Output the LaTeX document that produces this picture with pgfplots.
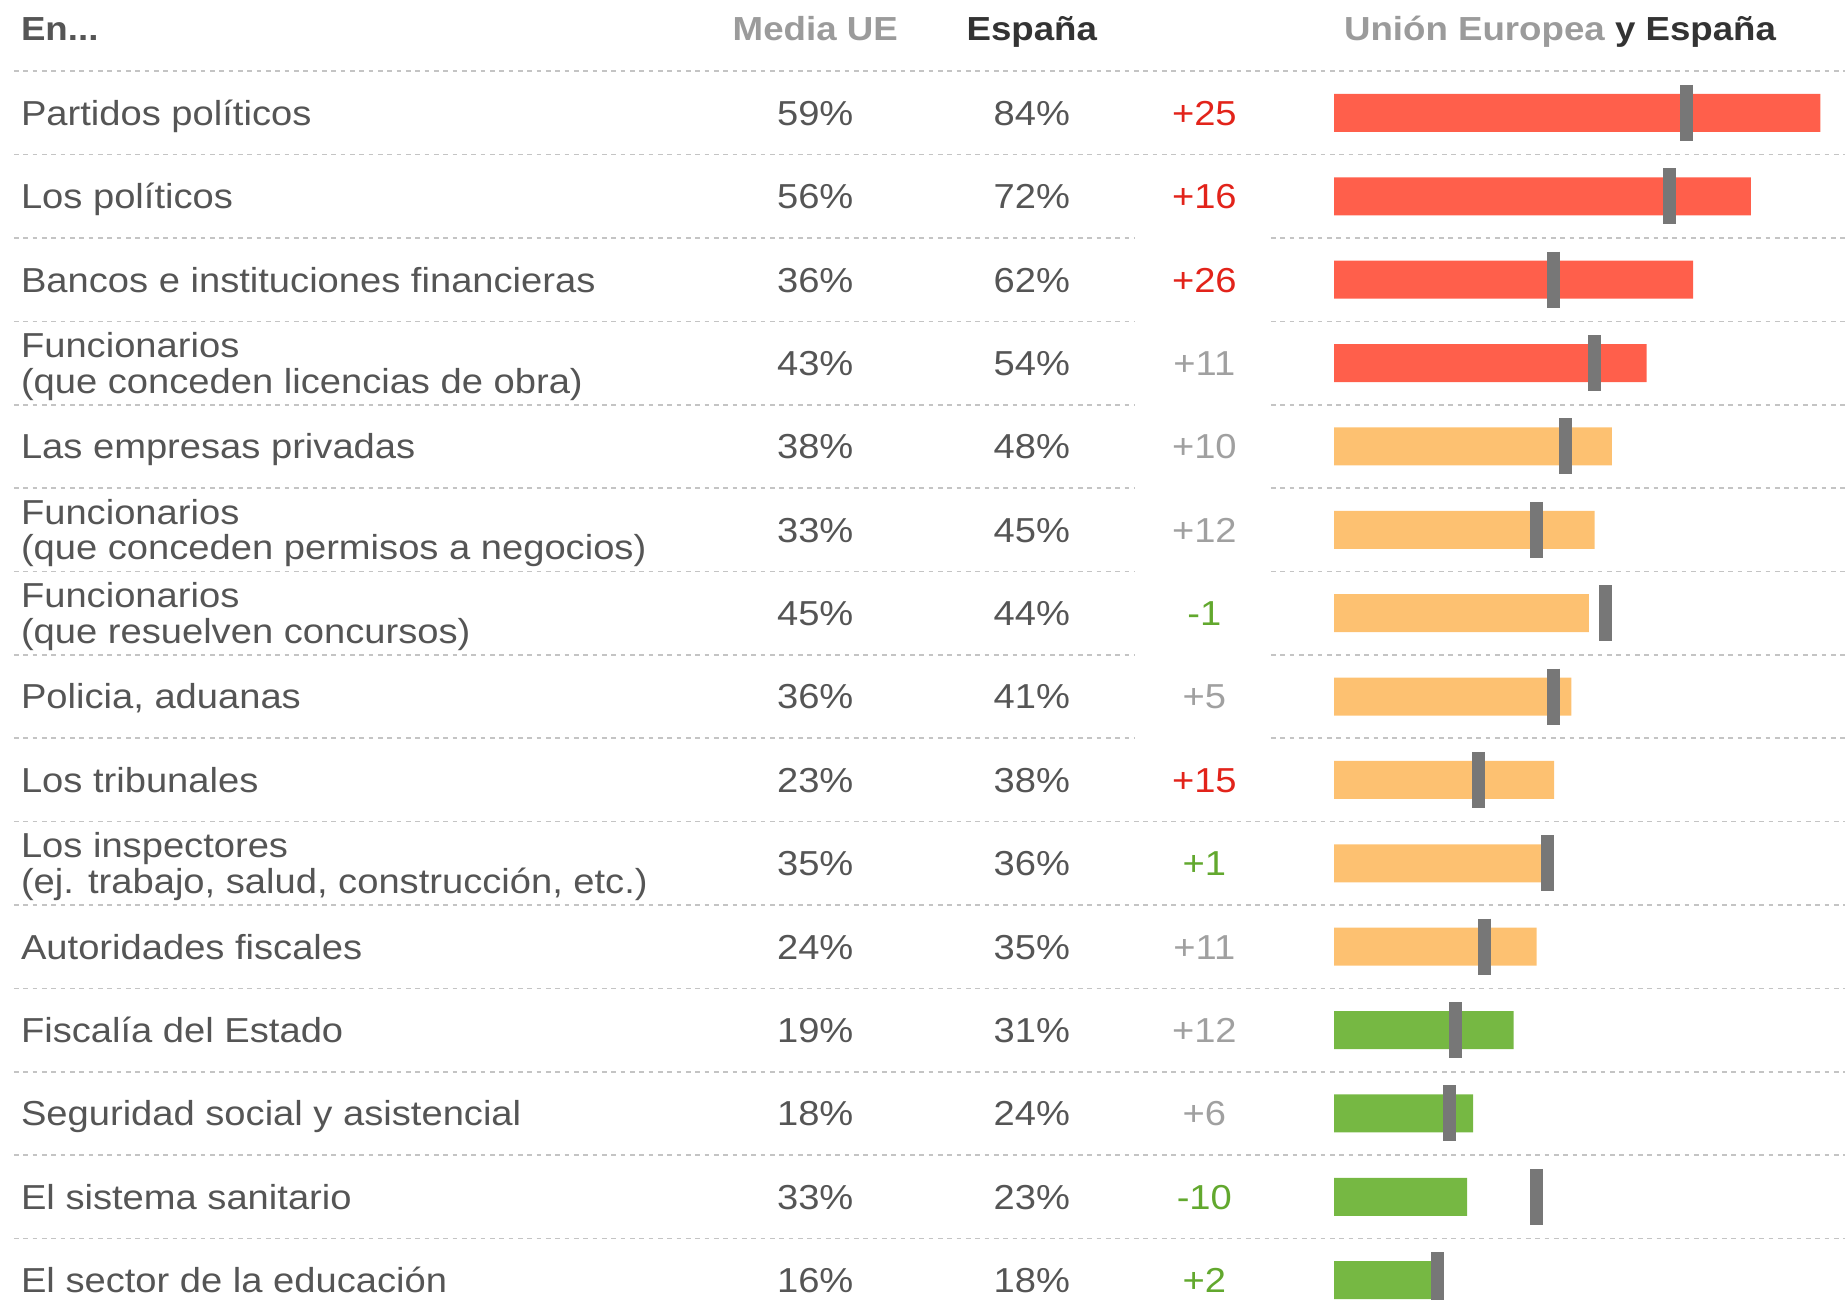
\documentclass[border=0pt]{standalone}
\usepackage{pgfplots}
\pgfplotsset{compat=1.18}
\usepackage{fontspec}
\setmainfont{Liberation Sans}[FakeStretch=1.10]

\definecolor{barred}{HTML}{FF5F4B}
\definecolor{barorange}{HTML}{FDC171}
\definecolor{bargreen}{HTML}{76B843}
\definecolor{euline}{HTML}{777777}
\definecolor{txt}{HTML}{555555}
\definecolor{hdrgrey}{HTML}{9B9B9B}
\definecolor{hdrdark}{HTML}{333333}
\definecolor{diffred}{HTML}{E2231A}
\definecolor{diffgreen}{HTML}{62A82E}
\definecolor{diffgrey}{HTML}{A0A0A0}
\definecolor{sep}{HTML}{C4C4C4}

% one text row: y, label, EU, Spain, difference, colour of difference
\newcommand{\tablerow}[6]{%
  \node[anchor=base west, yshift=-3.7pt, text=txt] at (axis cs:-228.8,#1) {#2};
  \node[anchor=base, yshift=-3.7pt, text=txt] at (axis cs:-89.6,#1) {#3\%};
  \node[anchor=base, yshift=-3.7pt, text=txt] at (axis cs:-52.2,#1) {#4\%};
  \node[anchor=base, yshift=-3.7pt, text=#6] at (axis cs:-22.4,#1) {#5};
}
\newcommand{\labeltwo}[3]{%
  \node[anchor=base west, yshift=1.6pt, text=txt] at (axis cs:-228.8,#1) {#2};
  \node[anchor=base west, yshift=-9.0pt, text=txt] at (axis cs:-228.8,#1) {#3};
}

\begin{document}
\begin{tikzpicture}[font=\fontsize{10.4}{10.6}\selectfont]
\begin{axis}[
  width=553.5pt, height=390pt, scale only axis,
  xmin=-230.4, xmax=88.25,
  ymin=-0.355, ymax=15.238, y dir=reverse,
  axis lines=none, ticks=none,
]
% dotted row separators
\draw[sep, line width=0.5pt, dash pattern=on 1.4pt off 1.4pt] (axis cs:-228,0.5) -- (axis cs:88.25,0.5);
\draw[sep, line width=0.5pt, dash pattern=on 1.4pt off 1.4pt] (axis cs:-228,1.5) -- (axis cs:88.25,1.5);
\draw[sep, line width=0.5pt, dash pattern=on 1.4pt off 1.4pt] (axis cs:-228,2.5) -- (axis cs:-34.4,2.5) (axis cs:-10.9,2.5) -- (axis cs:88.25,2.5);
\draw[sep, line width=0.5pt, dash pattern=on 1.4pt off 1.4pt] (axis cs:-228,3.5) -- (axis cs:-34.4,3.5) (axis cs:-10.9,3.5) -- (axis cs:88.25,3.5);
\draw[sep, line width=0.5pt, dash pattern=on 1.4pt off 1.4pt] (axis cs:-228,4.5) -- (axis cs:-34.4,4.5) (axis cs:-10.9,4.5) -- (axis cs:88.25,4.5);
\draw[sep, line width=0.5pt, dash pattern=on 1.4pt off 1.4pt] (axis cs:-228,5.5) -- (axis cs:-34.4,5.5) (axis cs:-10.9,5.5) -- (axis cs:88.25,5.5);
\draw[sep, line width=0.5pt, dash pattern=on 1.4pt off 1.4pt] (axis cs:-228,6.5) -- (axis cs:-34.4,6.5) (axis cs:-10.9,6.5) -- (axis cs:88.25,6.5);
\draw[sep, line width=0.5pt, dash pattern=on 1.4pt off 1.4pt] (axis cs:-228,7.5) -- (axis cs:-34.4,7.5) (axis cs:-10.9,7.5) -- (axis cs:88.25,7.5);
\draw[sep, line width=0.5pt, dash pattern=on 1.4pt off 1.4pt] (axis cs:-228,8.5) -- (axis cs:-34.4,8.5) (axis cs:-10.9,8.5) -- (axis cs:88.25,8.5);
\draw[sep, line width=0.5pt, dash pattern=on 1.4pt off 1.4pt] (axis cs:-228,9.5) -- (axis cs:88.25,9.5);
\draw[sep, line width=0.5pt, dash pattern=on 1.4pt off 1.4pt] (axis cs:-228,10.5) -- (axis cs:88.25,10.5);
\draw[sep, line width=0.5pt, dash pattern=on 1.4pt off 1.4pt] (axis cs:-228,11.5) -- (axis cs:88.25,11.5);
\draw[sep, line width=0.5pt, dash pattern=on 1.4pt off 1.4pt] (axis cs:-228,12.5) -- (axis cs:88.25,12.5);
\draw[sep, line width=0.5pt, dash pattern=on 1.4pt off 1.4pt] (axis cs:-228,13.5) -- (axis cs:88.25,13.5);
\draw[sep, line width=0.5pt, dash pattern=on 1.4pt off 1.4pt] (axis cs:-228,14.5) -- (axis cs:88.25,14.5);

% Spain bars
\addplot[xbar, bar width=11.4pt, bar shift=0pt, fill=barred, draw=none]
  coordinates {(84,1) (72,2) (62,3) (54,4)};
\addplot[xbar, bar width=11.4pt, bar shift=0pt, fill=barorange, draw=none]
  coordinates {(48,5) (45,6) (44,7) (41,8) (38,9) (36,10) (35,11)};
\addplot[xbar, bar width=11.4pt, bar shift=0pt, fill=bargreen, draw=none]
  coordinates {(31,12) (24,13) (23,14) (18,15)};

% EU average markers
\addplot[only marks, mark=|, mark size=8.4pt,
  mark options={line width=3.9pt, draw=euline, xshift=3.3pt}]
  coordinates {(59,1) (56,2) (36,3) (43,4) (38,5) (33,6) (45,7) (36,8)
               (23,9) (35,10) (24,11) (19,12) (18,13) (33,14) (16,15)};

% header
\node[anchor=base west, yshift=-3.7pt, text=txt, font=\bfseries] at (axis cs:-228.8,-0.02) {En...};
\node[anchor=base, yshift=-3.7pt, text=hdrgrey, font=\bfseries] at (axis cs:-89.6,-0.02) {Media UE};
\node[anchor=base, yshift=-3.7pt, text=hdrdark, font=\bfseries] at (axis cs:-52.2,-0.02) {España};
\node[anchor=base west, yshift=-3.7pt, text=hdrdark, font=\bfseries] at (axis cs:-0.3,-0.02) {\textcolor{hdrgrey}{Unión Europea} y España};

% rows
\tablerow{1}{Partidos políticos}{59}{84}{+25}{diffred}
\tablerow{2}{Los políticos}{56}{72}{+16}{diffred}
\tablerow{3}{Bancos e instituciones financieras}{36}{62}{+26}{diffred}
\tablerow{4}{}{43}{54}{+11}{diffgrey}
\labeltwo{4}{Funcionarios}{(que conceden licencias de obra)}
\tablerow{5}{Las empresas privadas}{38}{48}{+10}{diffgrey}
\tablerow{6}{}{33}{45}{+12}{diffgrey}
\labeltwo{6}{Funcionarios}{(que conceden permisos a negocios)}
\tablerow{7}{}{45}{44}{-1}{diffgreen}
\labeltwo{7}{Funcionarios}{(que resuelven concursos)}
\tablerow{8}{Policia, aduanas}{36}{41}{+5}{diffgrey}
\tablerow{9}{Los tribunales}{23}{38}{+15}{diffred}
\tablerow{10}{}{35}{36}{+1}{diffgreen}
\labeltwo{10}{Los inspectores}{(ej. trabajo, salud, construcción, etc.)}
\tablerow{11}{Autoridades fiscales}{24}{35}{+11}{diffgrey}
\tablerow{12}{Fiscalía del Estado}{19}{31}{+12}{diffgrey}
\tablerow{13}{Seguridad social y asistencial}{18}{24}{+6}{diffgrey}
\tablerow{14}{El sistema sanitario}{33}{23}{-10}{diffgreen}
\tablerow{15}{El sector de la educación}{16}{18}{+2}{diffgreen}
\end{axis}
\pgfresetboundingbox
\path[use as bounding box] (current axis.south west) rectangle (current axis.north east);
\end{tikzpicture}
\end{document}
